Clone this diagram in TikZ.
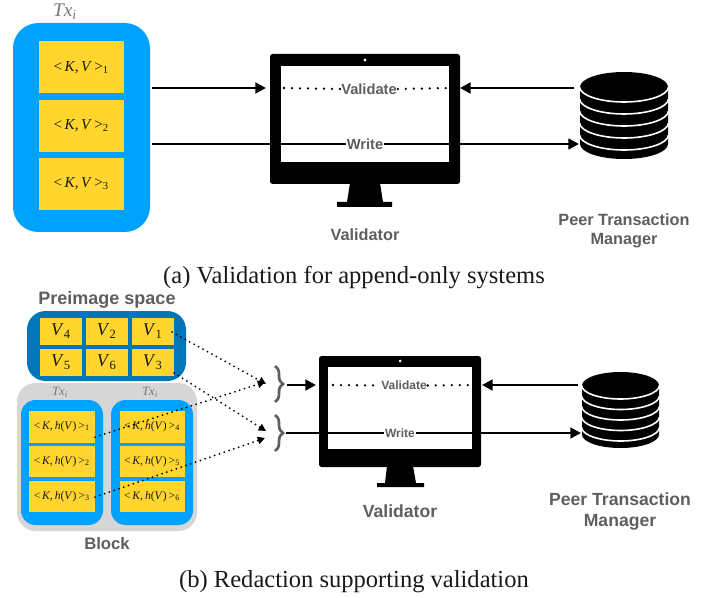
\documentclass[tikz,border=0pt]{standalone}
\usepackage{fontspec}
\setmainfont{Liberation Serif}
\setsansfont{Liberation Sans}
\usetikzlibrary{arrows.meta,decorations.pathreplacing}
\definecolor{txblue}{HTML}{00A2FF}
\definecolor{deepblue}{HTML}{0076BA}
\definecolor{cellyellow}{HTML}{FFD52E}
\definecolor{blockgray}{HTML}{D6D6D6}
\definecolor{labelgray}{HTML}{5E5E5E}
\tikzset{
  solidbox/.style={inner sep=0pt,outer sep=0pt,draw=none},
  cell/.style={solidbox,fill=cellyellow,text=black!90},
  heavy/.style={line width=2.2pt,-{Triangle[length=8pt,width=8pt]}},
  medium/.style={line width=1.8pt,-{Triangle[length=8pt,width=8pt]}},
  bigdots/.style={line width=1.9pt,line cap=round,dash pattern=on 0pt off 6pt},
  tinydots/.style={line width=1.5pt,line cap=round,dash pattern=on 0pt off 3.8pt},
  dotarrow/.style={tinydots,-{Triangle[length=5.5pt,width=5.5pt]}},
  sans/.style={font=\sffamily\bfseries\fontsize{#1}{#1}\selectfont,text=labelgray,inner sep=0.6pt},
  plainlabel/.style={font=\fontsize{#1}{#1}\selectfont,text=labelgray!85,inner sep=0pt},
  captiontext/.style={font=\fontsize{18.4pt}{20pt}\selectfont,inner sep=0pt,text=black!90},
  brc/.style={draw=labelgray,line width=2pt,decorate,decoration={brace,amplitude=6pt}}
}
% name, x1,y1,x2,y2 (px), style, text
\newcommand{\pxbox}[7]{%
  \pgfmathsetmacro\boxcx{(#2+#4)/2}%
  \pgfmathsetmacro\boxcy{(#3+#5)/2}%
  \pgfmathsetmacro\boxw{(#4-#2)*0.75}%
  \pgfmathsetmacro\boxh{(#5-#3)*0.75}%
  \node[solidbox,minimum width=\boxw pt,minimum height=\boxh pt,#6] (#1) at (\boxcx,\boxcy) {#7};}
\newcommand{\kv}[1]{{\fontsize{11.4pt}{11.4pt}\selectfont <\,\textit{K},\,\textit{V}\,>\textsubscript{#1}}}
\newcommand{\kh}[1]{{\fontsize{8.7pt}{8.7pt}\selectfont <\,\textit{K},\,\textit{h}(\textit{V})\,>\textsubscript{#1}}}
\newcommand{\vv}[1]{{\fontsize{13.5pt}{13.5pt}\selectfont \textit{V}\textsubscript{#1}}}
\newcommand{\txi}{\textit{Tx}\textsubscript{\textit{i}}}
% monitor: prefix, x1,y1,x2,y2, sx1,sy1,sx2,sy2
\newcommand{\monitor}[9]{%
  \pxbox{#1}{#2}{#3}{#4}{#5}{fill=black,rounded corners=2pt}{}
  \pxbox{#1scr}{#6}{#7}{#8}{#9}{fill=white}{}}
% database: x1, x2, top, ry, first side y, spacing, bottom side y
\newcommand{\dbicon}[7]{%
  \pgfmathsetmacro\dcx{(#1+#2)/2}%
  \pgfmathsetmacro\drx{(#2-#1)/2}%
  \fill[black] (#1,#3+#4) -- (#1,#7) .. controls (#1,#7+.552*#4) and (\dcx-.552*\drx,#7+#4) .. (\dcx,#7+#4)
     .. controls (\dcx+.552*\drx,#7+#4) and (#2,#7+.552*#4) .. (#2,#7) -- (#2,#3+#4)
     .. controls (#2,#3+#4-.552*#4) and (\dcx+.552*\drx,#3) .. (\dcx,#3)
     .. controls (\dcx-.552*\drx,#3) and (#1,#3+#4-.552*#4) .. cycle;
  \foreach \k in {0,1,2,3,4}{
    \pgfmathsetmacro\sy{#5+\k*#6}%
    \draw[white,line width=1.2pt] (#1-.5,\sy) .. controls (#1,\sy+.552*#4) and (\dcx-.552*\drx,\sy+#4) .. (\dcx,\sy+#4)
      .. controls (\dcx+.552*\drx,\sy+#4) and (#2,\sy+.552*#4) .. (#2+.5,\sy);
  }}
\begin{document}
\begin{tikzpicture}[x=0.75pt,y=-0.75pt]
\useasboundingbox (0,0) rectangle (709,598);
% ---------- (a) ----------
\node[plainlabel=14.5pt] (txa) at (65,12) {\txi};
\pxbox{txboxa}{13}{23}{150}{232}{fill=txblue,rounded corners=19pt}{}
\pxbox{a1}{39}{41}{123.5}{93.5}{cell}{\kv{1}}
\pxbox{a2}{39}{100}{123.5}{152}{cell}{\kv{2}}
\pxbox{a3}{39}{158}{123.5}{210}{cell}{\kv{3}}
\monitor{mona}{270}{54}{460}{184}{281}{66}{449}{162}
\fill[white] (365,60) circle (1.7);
\fill[black] (350,183) -- (380,183) -- (383,202) -- (392,202) -- (392,207) -- (337,207) -- (337,202) -- (347,202) -- cycle;
\dbicon{580}{668}{72}{15}{87}{12}{144}
\coordinate (avalL) at (152,88);
\coordinate (avalR) at (266,88);
\coordinate (awrL) at (152,144);
\coordinate (awrR) at (579,144);
\coordinate (adbL) at (574,88);
\coordinate (amonR) at (460,88);
\coordinate (adotL) at (284,88);
\coordinate (adotR) at (449,88);
\draw[heavy] (avalL) -- (avalR);
\draw[heavy] (adbL) -- (amonR);
\draw[medium] (awrL) -- (awrR);
\node[sans=11pt,fill=white] (avalid) at (369,89) {Validate};
\node[sans=11pt,fill=white] (awrite) at (365,144) {Write};
\draw[bigdots] (adotL) -- (avalid.west);
\draw[bigdots] (avalid.east) -- (adotR);
\node[sans=12.2pt] (vla) at (365,235) {Validator};
\node[sans=12.2pt] (pa1) at (624,219.5) {Peer Transaction};
\node[sans=12.2pt] (pa2) at (624,240.5) {Manager};
\node[captiontext] (capa) at (354,277.5) {(a) Validation for append-only systems};
% ---------- (b) ----------
\node[sans=13.5pt] (pre) at (107,299.5) {Preimage space};
\pxbox{prebox}{27}{311}{186}{381}{fill=deepblue,rounded corners=14pt}{}
\pxbox{v4}{40}{318}{82}{345}{cell}{\vv{4}}
\pxbox{v2}{86}{318}{127.5}{345}{cell}{\vv{2}}
\pxbox{v1}{132}{318}{173.5}{345}{cell}{\vv{1}}
\pxbox{v5}{40}{349}{82}{376}{cell}{\vv{5}}
\pxbox{v6}{86}{349}{127.5}{376}{cell}{\vv{6}}
\pxbox{v3}{132}{349}{173.5}{376}{cell}{\vv{3}}
\pxbox{blockbox}{17}{383}{197}{531}{fill=blockgray,rounded corners=14pt}{}
\node[plainlabel=9.5pt] (txb1) at (60,392) {\txi};
\node[plainlabel=9.5pt] (txb2) at (150,392) {\txi};
\pxbox{txl}{21}{400}{103}{525}{fill=txblue,rounded corners=11pt}{}
\pxbox{txr}{111}{400}{193}{525}{fill=txblue,rounded corners=11pt}{}
\pxbox{k1}{29}{411}{94.5}{442.5}{cell}{\kh{1}}
\pxbox{k2}{29}{446}{94.5}{477}{cell}{\kh{2}}
\pxbox{k3}{29}{481}{94.5}{512}{cell}{\kh{3}}
\pxbox{k4}{119.5}{411}{184.5}{442.5}{cell}{\kh{4}}
\pxbox{k5}{119.5}{446}{184.5}{477}{cell}{\kh{5}}
\pxbox{k6}{119.5}{481}{184.5}{512}{cell}{\kh{6}}
\node[sans=12.5pt] (blk) at (107,544) {Block};
\monitor{monb}{319}{356}{481}{467}{328}{367}{472}{449}
\fill[white] (400,361) circle (1.5);
\fill[black] (387,466) -- (413,466) -- (416,483) -- (424,483) -- (424,487) -- (377,487) -- (377,483) -- (385,483) -- cycle;
\dbicon{582}{659}{372}{13.5}{385.5}{10.5}{434.5}
\coordinate (b1top) at (275,366);
\coordinate (b1bot) at (275,402);
\coordinate (b2top) at (275,415);
\coordinate (b2bot) at (275,451);
\draw[brc] (b1top) -- (b1bot);
\draw[brc] (b2top) -- (b2bot);
\coordinate (bvalL) at (287,385);
\coordinate (bvalR) at (316,385);
\coordinate (bwrL) at (286,433);
\coordinate (bwrR) at (581,433);
\coordinate (bdbL) at (578,385);
\coordinate (bmonR) at (482,385);
\coordinate (bdotL) at (333,385);
\coordinate (bdotR) at (470,385);
\draw[heavy] (bvalL) -- (bvalR);
\draw[heavy] (bdbL) -- (bmonR);
\draw[medium] (bwrL) -- (bwrR);
\node[sans=9pt,fill=white] (bvalid) at (404,385.5) {Validate};
\node[sans=9pt,fill=white] (bwrite) at (400,433.5) {Write};
\draw[bigdots] (bdotL) -- (bvalid.west);
\draw[bigdots] (bvalid.east) -- (bdotR);
\coordinate (s1) at (172,332);
\coordinate (s2) at (174,373);
\coordinate (s3) at (95,437);
\coordinate (s4) at (95,497);
\coordinate (e1) at (266,384);
\coordinate (e2) at (266,431);
\coordinate (e3) at (265,382);
\coordinate (e4) at (265,438);
\draw[dotarrow] (s1) -- (e1);
\draw[dotarrow] (s2) -- (e2);
\draw[dotarrow] (s3) -- (e3);
\draw[dotarrow] (s4) -- (e4);
\node[sans=13.2pt] (vlb) at (400,511.5) {Validator};
\node[sans=13.2pt] (pb1) at (620,499.5) {Peer Transaction};
\node[sans=13.2pt] (pb2) at (620,522.5) {Manager};
\node[captiontext] (capb) at (354,582) {(b) Redaction supporting validation};
\end{tikzpicture}
\end{document}
